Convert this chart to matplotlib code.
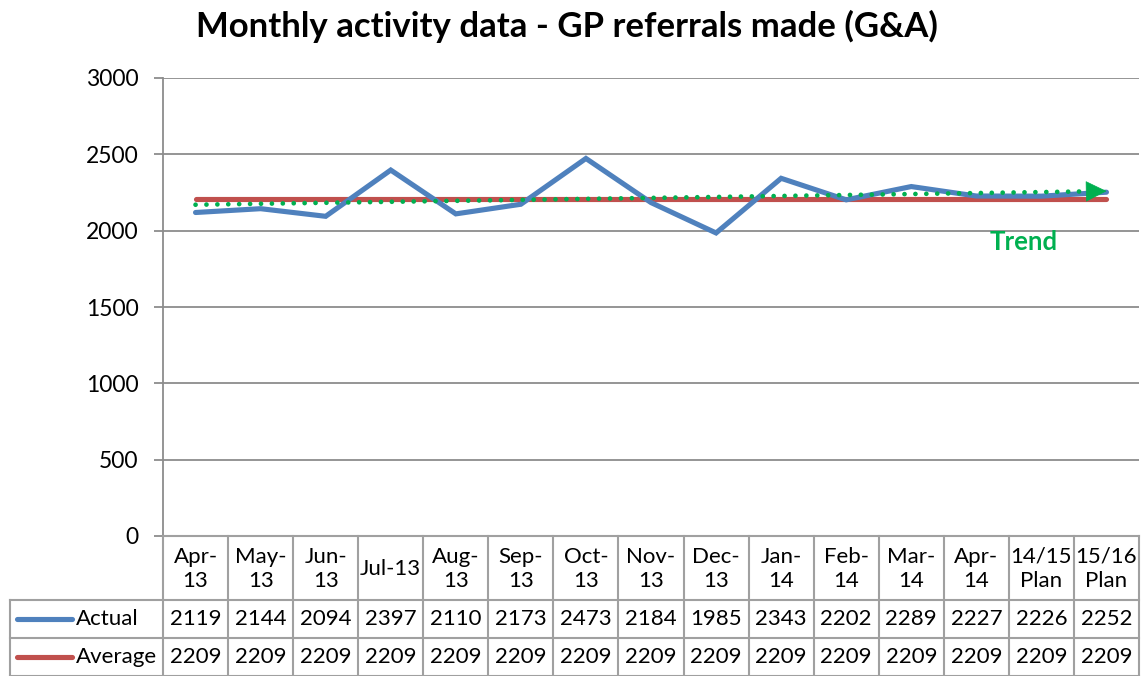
import numpy as np
import matplotlib
matplotlib.use("Agg")
import matplotlib.pyplot as plt
from matplotlib import transforms
from matplotlib.lines import Line2D

plt.rcParams['font.family'] = ['Lato', 'DejaVu Sans']

# ---- data ----
categories = ["Apr-\n13", "May-\n13", "Jun-\n13", "Jul-13", "Aug-\n13", "Sep-\n13",
              "Oct-\n13", "Nov-\n13", "Dec-\n13", "Jan-\n14", "Feb-\n14", "Mar-\n14",
              "Apr-\n14", "14/15\nPlan", "15/16\nPlan"]
actual = [2119, 2144, 2094, 2397, 2110, 2173, 2473, 2184, 1985, 2343, 2202, 2289,
          2227, 2226, 2252]
average = [2209] * 15
series_names = ["Actual", "Average"]
y_ticks = [0, 500, 1000, 1500, 2000, 2500, 3000]
title = "Monthly activity data - GP referrals made (G&A)"

BLUE = "#4F81BD"
RED = "#C0504D"
GREEN = "#00B050"
GRID = "#8C8C8C"
TABLE = "#A0A0A0"
FS = 16

W, H = 1142, 676
fig = plt.figure(figsize=(W / 100, H / 100), dpi=100)

# plot area in pixel terms
left, right, top, bottom = 163, 1139, 78, 536
ax = fig.add_axes([left / W, (H - bottom) / H, (right - left) / W, (bottom - top) / H])

x = np.arange(len(categories))
ax.set_xlim(-0.5, len(categories) - 0.5)
ax.set_ylim(0, 3000)
ax.set_yticks(y_ticks)
ax.set_yticklabels([str(v) for v in y_ticks], fontsize=16.5)
ax.set_xticks([])
ax.grid(axis='y', color=GRID, linewidth=1.3)
ax.set_axisbelow(True)
for s in ['top', 'right', 'bottom']:
    ax.spines[s].set_visible(False)
ax.spines['left'].set_color(GRID)
ax.spines['left'].set_linewidth(1.3)
ax.tick_params(axis='y', direction='out', length=6.5, width=1.3, color=GRID, pad=11)

# series
ax.plot(x, average, color=RED, linewidth=3.7, solid_capstyle='round', zorder=3)
ax.plot(x, actual, color=BLUE, linewidth=3.7, solid_capstyle='round',
        solid_joinstyle='miter', zorder=4)

# linear trend of the actual series
coef = np.polyfit(x, actual, 1)
trend = np.polyval(coef, x)
x_end = x[-1] - 0.22
ax.plot(np.r_[x[:-1], x_end], np.r_[trend[:-1], np.polyval(coef, x_end)],
        color=GREEN, linewidth=3.4, linestyle=(0, (0.01, 2.3)),
        dash_capstyle='round', zorder=5)
ax.annotate('', xy=(x[-1], trend[-1]), xytext=(x_end, np.polyval(coef, x_end)),
            arrowprops=dict(arrowstyle='-|>,head_length=0.7,head_width=0.35',
                            color=GREEN, lw=0.5, shrinkA=0, shrinkB=0,
                            mutation_scale=20), zorder=6)
ax.text(12.21, 1926, "Trend", color=GREEN, fontsize=18.5, fontweight='bold',
        ha='left', va='center')

# title
fig.text(567 / W, 1 - 26 / H, title, ha='center', va='center',
         fontsize=25, fontweight='bold')

# ---- data table below the plot ----
px = transforms.Affine2D().scale(1 / W, -1 / H).translate(0, 1) + fig.transFigure
tx = transforms.blended_transform_factory(ax.transData, px)

row_edges = [536, 600, 638, 676]
leg_left = 10
x_lo, x_hi = -0.5, len(categories) - 0.5
lk = dict(color=TABLE, linewidth=1.5, clip_on=False)

# horizontal rules
fig.add_artist(Line2D([x_lo, x_hi], [row_edges[0]] * 2, transform=tx, **lk))
x1_px = ax.transData.transform((x_hi, 0))[0]
for yy in row_edges[1:]:
    fig.add_artist(Line2D([leg_left, x1_px], [yy, yy], transform=px, **lk))
# vertical rules
for i in range(len(categories) + 1):
    fig.add_artist(Line2D([i - 0.5] * 2, [row_edges[0], row_edges[-1]], transform=tx, **lk))
fig.add_artist(Line2D([leg_left] * 2, [row_edges[1], row_edges[-1]], transform=px, **lk))

# header cells
hdr_mid = (row_edges[0] + row_edges[1]) / 2
for i, cat in enumerate(categories):
    fig.text(i, hdr_mid + 1, cat, transform=tx, ha='center', va='center',
             fontsize=FS, linespacing=1.3)

# value rows
for r, (name, vals, col) in enumerate([(series_names[0], actual, BLUE),
                                        (series_names[1], average, RED)]):
    mid = (row_edges[r + 1] + row_edges[r + 2]) / 2
    fig.add_artist(Line2D([17, 72], [mid, mid], transform=px, color=col,
                          linewidth=3.7, solid_capstyle='round'))
    fig.text(76, mid, name, transform=px, ha='left', va='center', fontsize=FS)
    for i, v in enumerate(vals):
        fig.text(i, mid, str(v), transform=tx, ha='center', va='center', fontsize=FS)

fig.savefig("out.png", dpi=100, facecolor='white')
